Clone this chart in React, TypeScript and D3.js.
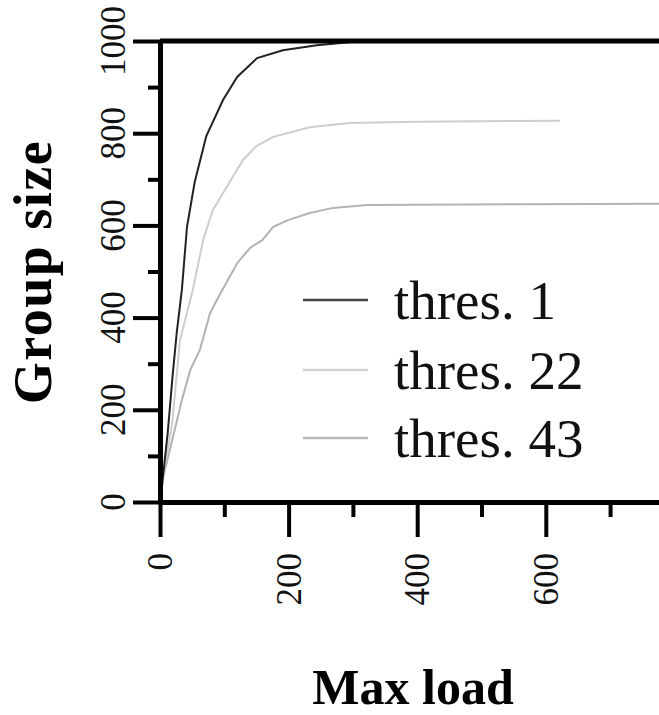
import React, { useEffect, useRef } from 'react';
import * as d3 from 'd3';

const thres1X = [0, 5, 12, 20, 26, 34, 42, 54, 72, 98, 120, 151, 191, 244, 306];
const thres1Y = [0, 60, 150, 280, 367, 460, 597, 694, 794, 872, 922, 963, 980, 991, 999];

const thres22X = [0, 8, 19, 31, 51, 67, 82, 129, 150, 176, 233, 295, 400, 500, 622];
const thres22Y = [0, 80, 171, 351, 460, 568, 633, 742, 772, 792, 813, 822, 825, 826, 827];

const thres43X = [0, 5, 19, 34, 47, 62, 78, 93, 120, 140, 159, 176, 200, 233, 269, 322, 400, 560, 800];
const thres43Y = [0, 54, 134, 221, 286, 330, 410, 450, 518, 551, 568, 597, 612, 627, 638, 644, 645, 646, 647];

const seriesNames = ['thres. 1', 'thres. 22', 'thres. 43'];
const seriesColors = ['#222', '#cdcdcd', '#b3b3b3'];
const legendColors = ['#444', '#d2d2d2', '#b8b8b8'];

const xMajor = [0, 200, 400, 600, 800];
const xMinor = [100, 300, 500, 700];
const xLabels = [0, 200, 400, 600];
const yMajor = [0, 200, 400, 600, 800, 1000];
const yMinor = [100, 300, 500, 700, 900];

const xTitle = 'Max load';
const yTitle = 'Group size';

const W = 659;
const H = 715;
const FONT = '"Liberation Serif", "Times New Roman", serif';

function Chart() {
    const ref = useRef(null);

    useEffect(() => {
        const svg = d3.select(ref.current);
        svg.selectAll('*').remove();

        const x = d3.scaleLinear().domain([0, 800]).range([160, 674.4]);
        const y = d3.scaleLinear().domain([0, 1000]).range([502, 41]);

        const series = [
            thres1X.map((v, i) => [v, thres1Y[i]]),
            thres22X.map((v, i) => [v, thres22Y[i]]),
            thres43X.map((v, i) => [v, thres43Y[i]]),
        ];

        const line = d3.line()
            .x((d) => x(d[0]))
            .y((d) => y(d[1]));

        // curves, light ones first so the dark one sits on top
        svg.append('g')
            .selectAll('path')
            .data([2, 1, 0])
            .join('path')
                .attr('d', (i) => line(series[i]))
                .attr('fill', 'none')
                .attr('stroke', (i) => seriesColors[i])
                .attr('stroke-width', 2);

        // top frame
        svg.append('line')
            .attr('x1', x(0)).attr('x2', x(800))
            .attr('y1', y(1000)).attr('y2', y(1000))
            .attr('stroke', '#000').attr('stroke-width', 5);

        const styleAxis = (g) => {
            g.select('.domain').attr('stroke', '#000').attr('stroke-width', 5);
            g.selectAll('.tick line').attr('stroke', '#000').attr('stroke-width', 4);
            g.selectAll('.tick text').remove();
        };

        // x axis
        svg.append('g')
            .attr('transform', `translate(0, ${y(0)})`)
            .call(d3.axisBottom(x).tickValues(xMinor).tickSize(15).tickSizeOuter(0))
            .call(styleAxis);
        svg.append('g')
            .attr('transform', `translate(0, ${y(0)})`)
            .call(d3.axisBottom(x).tickValues(xMajor).tickSize(35).tickSizeOuter(0))
            .call(styleAxis);

        // y axis
        svg.append('g')
            .attr('transform', `translate(${x(0)}, 0)`)
            .call(d3.axisLeft(y).tickValues(yMinor).tickSize(12).tickSizeOuter(0))
            .call(styleAxis);
        svg.append('g')
            .attr('transform', `translate(${x(0)}, 0)`)
            .call(d3.axisLeft(y).tickValues(yMajor).tickSize(27).tickSizeOuter(0))
            .call(styleAxis);

        // tick labels, rotated
        svg.append('g')
            .selectAll('text')
            .data(xLabels)
            .join('text')
                .attr('transform', (d) => `translate(${x(d) + 12}, 553) rotate(-90)`)
                .attr('text-anchor', 'end')
                .style('font-family', FONT)
                .style('font-size', '35px')
                .attr('fill', '#111')
                .text((d) => d);

        svg.append('g')
            .selectAll('text')
            .data(yMajor)
            .join('text')
                .attr('transform', (d) => `translate(125, ${y(d)}) rotate(-90)`)
                .attr('text-anchor', 'middle')
                .style('font-family', FONT)
                .style('font-size', '35px')
                .attr('fill', '#111')
                .text((d) => d);

        // axis titles
        svg.append('text')
            .attr('x', 413).attr('y', 704)
            .attr('text-anchor', 'middle')
            .style('font-family', FONT)
            .style('font-size', '50px')
            .style('font-weight', 'bold')
            .text(xTitle);

        svg.append('text')
            .attr('transform', 'translate(51, 272) rotate(-90)')
            .attr('text-anchor', 'middle')
            .style('font-family', FONT)
            .style('font-size', '54px')
            .style('font-weight', 'bold')
            .style('letter-spacing', '1.5px')
            .text(yTitle);

        // legend
        const legend = svg.append('g')
            .selectAll('g')
            .data(seriesNames)
            .join('g')
                .attr('transform', (d, i) => `translate(303, ${[300, 370, 438][i]})`);
        legend.append('line')
            .attr('x1', 0).attr('x2', 65)
            .attr('stroke', (d, i) => legendColors[i])
            .attr('stroke-width', 2.5);
        legend.append('text')
            .attr('x', 91).attr('y', 19)
            .style('font-family', FONT)
            .style('font-size', '55px')
            .attr('fill', '#111')
            .text((d) => d);
    }, []);

    return (
        <svg ref={ref} width={W} height={H} style={{ position: 'absolute', left: 0, top: 0, background: '#fff' }}></svg>
    );
}

export default function App() {
    return <Chart />;
}
